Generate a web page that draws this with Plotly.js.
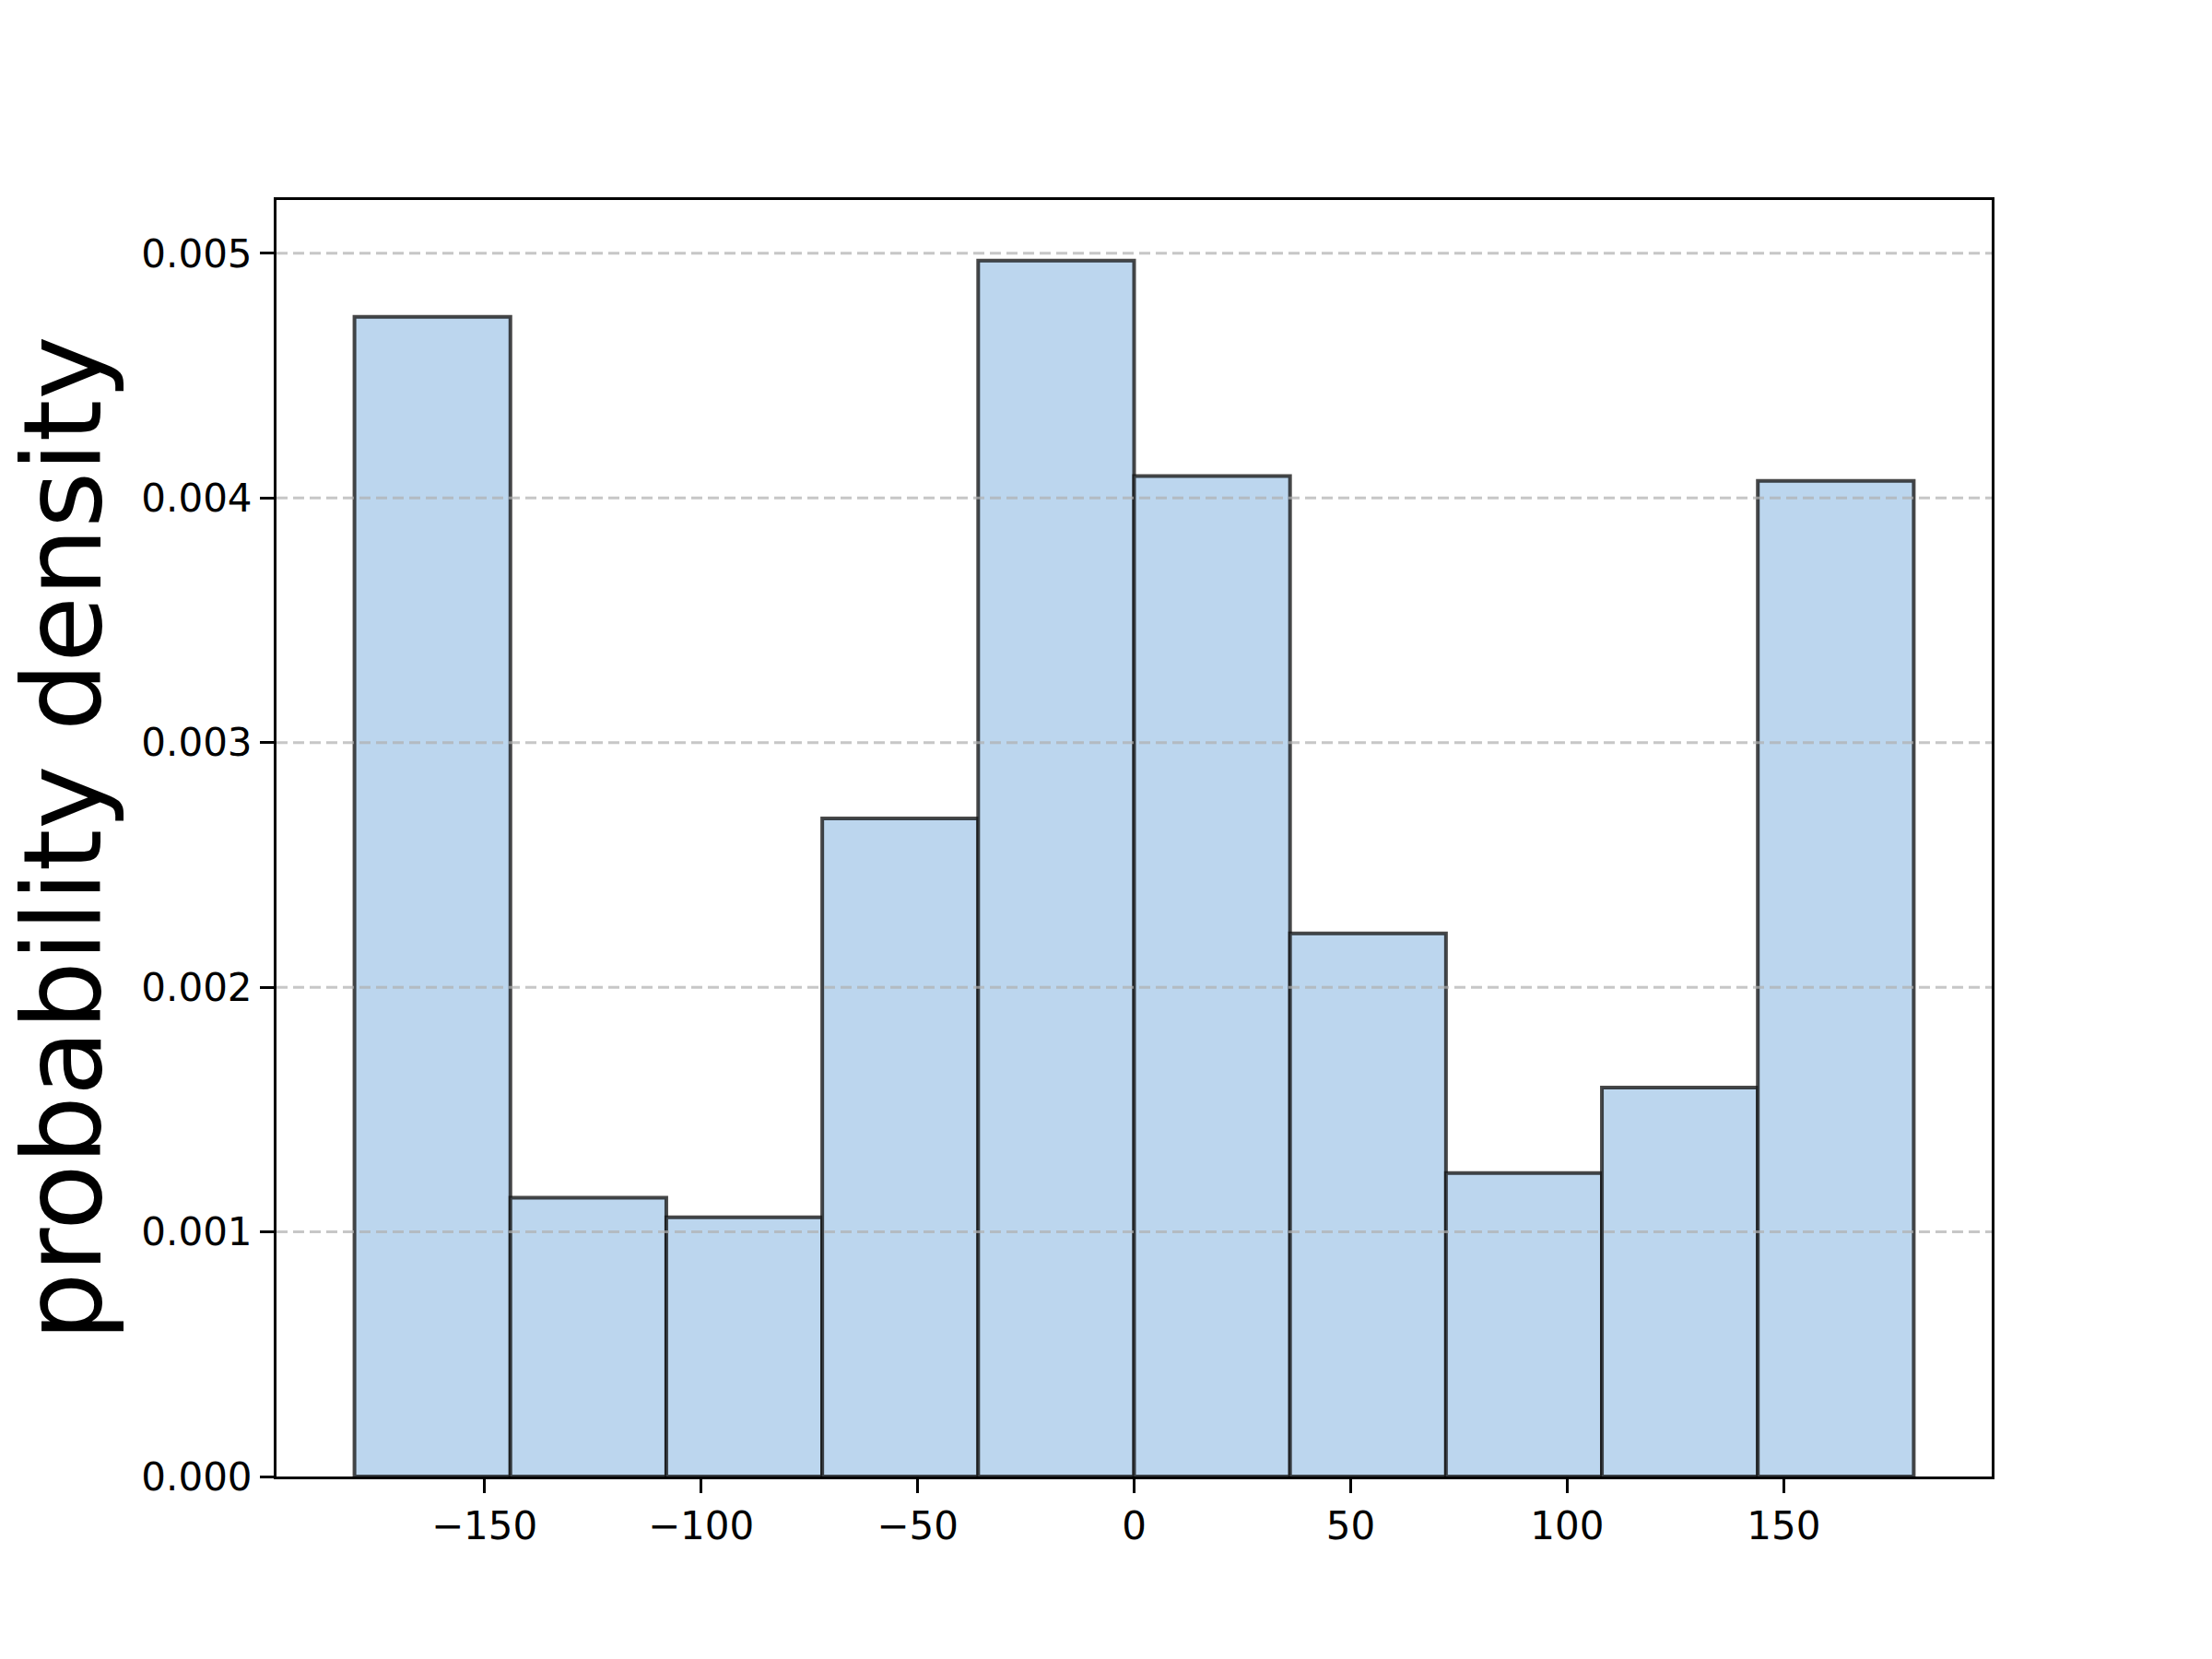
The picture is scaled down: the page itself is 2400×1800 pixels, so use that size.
<!DOCTYPE html>
<html>
<head>
<meta charset="utf-8">
<script src="https://cdn.plot.ly/plotly-3.0.1.min.js"></script>
<style>
  body { margin: 0; background: #ffffff; }
  #plot { width: 2400px; height: 1800px; }
</style>
</head>
<body>
<div id="plot"></div>
<script>
// histogram bins: 10 bins of 36 degrees from -180 to 180
let binStarts = [-180, -144, -108, -72, -36, 0, 36, 72, 108, 144];
let binWidth = 36;
let density = [0.00474, 0.00114, 0.00106, 0.00269, 0.00497, 0.00409, 0.00222, 0.00124, 0.00159, 0.00407];

let xTicks = [-150, -100, -50, 0, 50, 100, 150];
let yTicks = [0, 0.001, 0.002, 0.003, 0.004, 0.005];

let trace = {
  x: binStarts.map(b => b + binWidth / 2),
  y: density,
  width: binStarts.map(() => binWidth),
  type: 'bar',
  marker: {
    color: 'rgb(188,214,238)',
    line: {color: 'rgba(20,20,20,0.78)', width: 4}
  },
  hoverinfo: 'x+y'
};

// dashed grid drawn over the bars, like the original
let gridLines = yTicks.filter(v => v > 0).map(v => ({
  type: 'line',
  xref: 'paper', x0: 0, x1: 1,
  yref: 'y', y0: v, y1: v,
  layer: 'above',
  opacity: 0.7,
  line: {color: 'rgb(176,176,176)', width: 3, dash: '12px,6px'}
}));

let tickFont = {family: 'DejaVu Sans', size: 42, color: '#000'};

let layout = {
  width: 2400,
  height: 1800,
  margin: {l: 300, r: 239, t: 217, b: 198},
  paper_bgcolor: '#fff',
  plot_bgcolor: '#fff',
  showlegend: false,
  bargap: 0,
  shapes: gridLines,
  xaxis: {
    range: [-198, 198],
    tickvals: xTicks,
    showgrid: false,
    zeroline: false,
    showline: true,
    mirror: true,
    linecolor: '#000',
    linewidth: 3,
    ticks: 'outside',
    ticklen: 15,
    tickwidth: 3,
    tickcolor: '#000',
    tickfont: tickFont
  },
  yaxis: {
    range: [0, 0.005218],
    tickvals: yTicks,
    tickformat: '.3f',
    showgrid: false,
    zeroline: false,
    showline: true,
    mirror: true,
    linecolor: '#000',
    linewidth: 3,
    ticks: 'outside',
    ticklen: 15,
    tickwidth: 3,
    tickcolor: '#000',
    tickfont: tickFont,
    title: {
      text: 'probability density',
      font: {family: 'DejaVu Sans', size: 117, color: '#000'},
      standoff: 20
    }
  }
};

Plotly.newPlot('plot', [trace], layout, {displayModeBar: false, staticPlot: true});
</script>
</body>
</html>
